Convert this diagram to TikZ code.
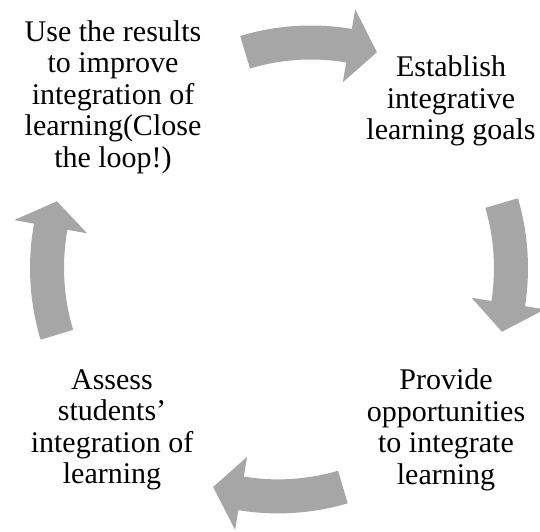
\documentclass[tikz,border=0pt]{standalone}
\usepackage{fontspec}
\setmainfont{Liberation Serif}
\usetikzlibrary{positioning}

\begin{document}
\begin{tikzpicture}
	[
	 	 %Styles
       x=1pt, y=1pt,
       step_text/.style={align=center, inner sep=0pt, font=\fontsize{30}{31.5}\selectfont},
       cycle_arrow/.style={fill=black!35, draw=none}
    ]
    \useasboundingbox (0,0) rectangle (540,531);

    %Text placement
    \node (results) [step_text] at (113,434) {Use the results\\to improve\\integration of\\learning(Close\\the loop!)};
    \node (goals) [step_text] at (451,430) {Establish\\integrative\\learning goals};
    \node (provide) [step_text] at (446,101) {Provide\\opportunities\\to integrate\\learning};
    \node (assess) [step_text] at (112,101) {Assess\\students’\\integration of\\learning};

    %Arrows: centre x/centre y/radius/tail/head base/tip
    \foreach \cx/\cy/\r/\tail/\base/\tip in
      {311/260.5/228/106.8/80.4/73.2, 281/263/230/16.4/-8.9/-16.1,
       278/263/228.4/-73.5/-99.3/-106.5, 278/263/231/196.8/169.7/163.2}
      \fill[cycle_arrow, shift={(\cx,\cy)}]
        (\tail:\r+17) arc[start angle=\tail, end angle=\base, radius=\r+17]
        -- (\base:\r+37) -- (\tip:\r) -- (\base:\r-37) -- (\base:\r-17)
        arc[start angle=\base, end angle=\tail, radius=\r-17] -- cycle;
\end{tikzpicture}
\end{document}
